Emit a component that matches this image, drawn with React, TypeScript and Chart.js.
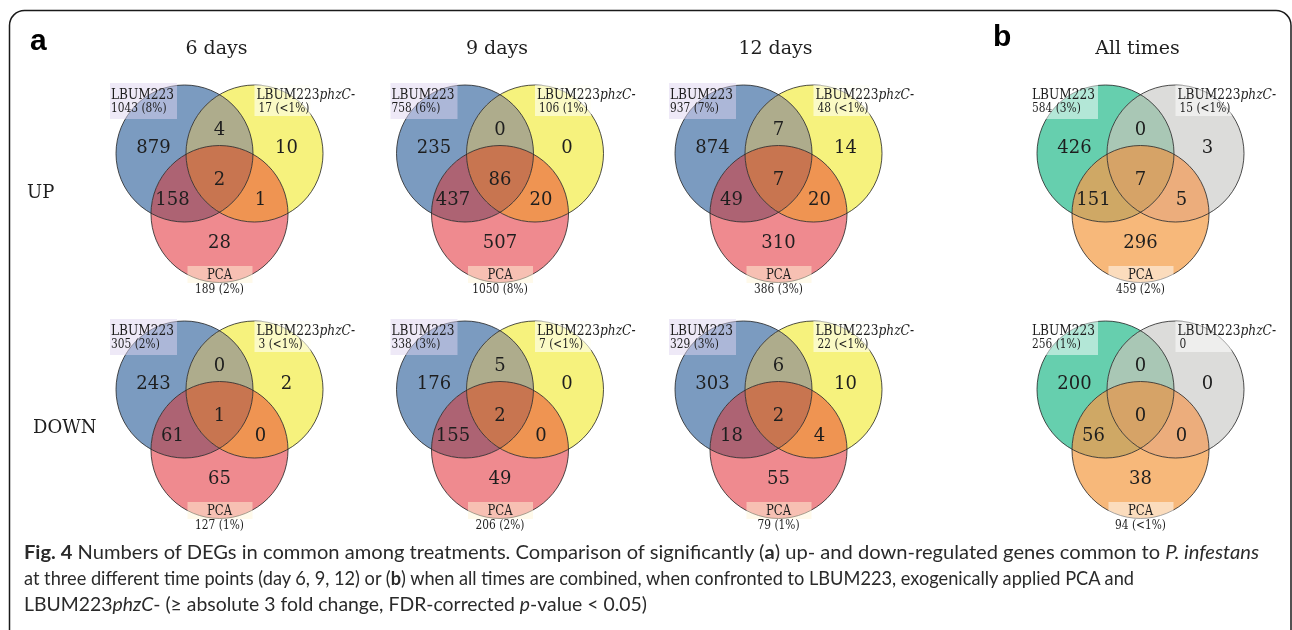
import React, { useEffect, useLayoutEffect, useRef } from "react";
import { Chart, registerables } from "chart.js";
Chart.register(...registerables);

// ---------------- data ----------------
const panelTitles = ["6 days", "9 days", "12 days", "All times"];
const rowLabels = ["UP", "DOWN"];
const setNames = ["LBUM223", "LBUM223", "PCA"];
const setSuffix = ["", "phzC-", ""];
// region counts: [A only, B only, C only, A∩B, A∩C, B∩C, A∩B∩C]  (A=LBUM223, B=LBUM223phzC-, C=PCA)
const upCounts = [
  [879, 10, 28, 4, 158, 1, 2],
  [235, 0, 507, 0, 437, 20, 86],
  [874, 14, 310, 7, 49, 20, 7],
  [426, 3, 296, 0, 151, 5, 7],
];
const downCounts = [
  [243, 2, 65, 0, 61, 0, 1],
  [176, 0, 49, 5, 155, 0, 2],
  [303, 10, 55, 6, 18, 4, 2],
  [200, 0, 38, 0, 56, 0, 0],
];
const upTotals = [
  ["1043 (8%)", "17 (<1%)", "189 (2%)"],
  ["758 (6%)", "106 (1%)", "1050 (8%)"],
  ["937 (7%)", "48 (<1%)", "386 (3%)"],
  ["584 (3%)", "15 (<1%)", "459 (2%)"],
];
const downTotals = [
  ["305 (2%)", "3 (<1%)", "127 (1%)"],
  ["338 (3%)", "7 (<1%)", "206 (2%)"],
  ["329 (3%)", "22 (<1%)", "79 (1%)"],
  ["256 (1%)", "0", "94 (<1%)"],
];

// ---------------- layout / style ----------------
const W = 1292;
const H = 630;
const PANEL_CX = [219.5, 500, 778.5, 1140.5];
const ROW_TOP = [85, 321];
const R = 68.5;
const DX = 35;
const DY = 60.5;

const REGION_MASK = [
  [1, 0, 0],
  [0, 1, 0],
  [0, 0, 1],
  [1, 1, 0],
  [1, 0, 1],
  [0, 1, 1],
  [1, 1, 1],
];
// text anchor (dx from panel centre, baseline dy from circle top)
const REGION_TEXT = [
  [-66, 68],
  [67, 68],
  [0, 163],
  [0, 50],
  [-47, 120],
  [41, 120],
  [0, 100],
];
const PALETTE_A = ["#7b9bc0", "#f6f27d", "#ef8a8f", "#aeac8c", "#ad6373", "#ef9452", "#c87550"];
const PALETTE_B = ["#66cfae", "#dcdcda", "#f7b87a", "#a9c7b5", "#cfa865", "#ecad7c", "#d6a367"];
const BOX_A = ["rgba(222,212,240,0.5)", "rgba(255,255,245,0.6)", "rgba(255,245,215,0.5)"];
const BOX_B = ["rgba(255,255,255,0.5)", "rgba(255,255,255,0.5)", "rgba(255,255,255,0.5)"];
const SERIF = "'DejaVu Serif', serif";
const TEXT = "#1e1e1e";
const CAPTION_TARGET = [1235, 1110, 623];

type Circle = { x: number; y: number; r: number };

function fillRegion(ctx: CanvasRenderingContext2D, circles: Circle[], mask: number[], color: string) {
  ctx.save();
  circles.forEach((c, i) => {
    ctx.beginPath();
    if (mask[i]) {
      ctx.arc(c.x, c.y, c.r, 0, Math.PI * 2);
      ctx.clip();
    } else {
      ctx.rect(0, 0, W, H);
      ctx.moveTo(c.x + c.r, c.y);
      ctx.arc(c.x, c.y, c.r, 0, Math.PI * 2);
      ctx.clip("evenodd");
    }
  });
  ctx.fillStyle = color;
  ctx.fillRect(0, 0, W, H);
  ctx.restore();
}

function drawText(
  ctx: CanvasRenderingContext2D,
  text: string,
  x: number,
  y: number,
  font: string,
  align: "left" | "center" = "left",
  sx = 1,
  color = TEXT
) {
  ctx.save();
  ctx.font = font;
  const w = ctx.measureText(text).width * sx;
  const x0 = align === "center" ? x - w / 2 : x;
  ctx.translate(x0, y);
  ctx.scale(sx, 1);
  ctx.textAlign = "left";
  ctx.textBaseline = "alphabetic";
  ctx.fillStyle = color;
  ctx.fillText(text, 0, 0);
  ctx.restore();
  return w;
}

const vennPlugin = {
  id: "venn",
  beforeDatasetsDraw(chart: any) {
    const ctx = chart.ctx as CanvasRenderingContext2D;
    const metas = [0, 1, 2].map((i) => chart.getDatasetMeta(i));
    const n = metas[0].data.length;
    for (let p = 0; p < n; p++) {
      const circles = metas.map((m: any) => {
        const el = m.data[p];
        return { x: el.x, y: el.y, r: el.options.radius };
      });
      const palette = p % 4 === 3 ? PALETTE_B : PALETTE_A;
      REGION_MASK.forEach((mask, k) => fillRegion(ctx, circles, mask, palette[k]));
    }
  },
  afterDatasetsDraw(chart: any) {
    const ctx = chart.ctx as CanvasRenderingContext2D;
    const xs = chart.scales.x;
    const ys = chart.scales.y;
    const X = (v: number) => xs.getPixelForValue(v);
    const Y = (v: number) => ys.getPixelForValue(v);

    rowLabels.forEach((lab, row) => {
      const counts = row === 0 ? upCounts : downCounts;
      const totals = row === 0 ? upTotals : downTotals;
      const top = ROW_TOP[row];
      PANEL_CX.forEach((cx, col) => {
        const boxes = col === 3 ? BOX_B : BOX_A;
        const rect = (x0: number, x1: number, y0: number, y1: number, c: string) => {
          ctx.fillStyle = c;
          ctx.fillRect(X(cx + x0), Y(top + y0), X(cx + x1) - X(cx + x0), Y(top + y1) - Y(top + y0));
        };
        rect(-109.5, -42.5, -2, 34, boxes[0]);
        rect(35, 91, 0, 31, boxes[1]);
        rect(-32, 33, 181, 198, boxes[2]);

        // set labels
        const nameFont = `14.5px ${SERIF}`;
        const cntFont = `12.5px ${SERIF}`;
        drawText(ctx, setNames[0], X(cx - 108.5), Y(top + 14), nameFont, "left", 0.84);
        drawText(ctx, totals[col][0], X(cx - 108.5), Y(top + 27), cntFont, "left", 0.85);
        const w1 = drawText(ctx, setNames[1], X(cx + 37), Y(top + 14), nameFont, "left", 0.84);
        drawText(ctx, setSuffix[1], X(cx + 37) + w1, Y(top + 14), `italic ${nameFont}`, "left", 0.84);
        drawText(ctx, totals[col][1], X(cx + 39), Y(top + 27), cntFont, "left", 0.85);
        drawText(ctx, setNames[2], X(cx), Y(top + 193.5), nameFont, "center", 0.8);
        drawText(ctx, totals[col][2], X(cx), Y(top + 208), cntFont, "center", 0.85);

        // region counts
        counts[col].forEach((v, k) => {
          const [dx, dy] = REGION_TEXT[k];
          drawText(ctx, String(v), X(cx + dx), Y(top + dy), `18px ${SERIF}`, "center", 1);
        });
      });
    });

    // titles and row labels
    panelTitles.forEach((t, col) => {
      drawText(ctx, t, X(PANEL_CX[col] - 3), Y(54), `19px ${SERIF}`, "center", 1);
    });
    drawText(ctx, rowLabels[0], X(27), Y(198), `18px ${SERIF}`, "left", 1);
    drawText(ctx, rowLabels[1], X(33), Y(433), `18px ${SERIF}`, "left", 1);
    drawText(ctx, "a", X(30), Y(50), `bold 30px 'Liberation Sans', Arial, sans-serif`, "left", 1, "#000");
    drawText(ctx, "b", X(993), Y(46), `bold 30px 'Liberation Sans', Arial, sans-serif`, "left", 1, "#000");

    // figure frame
    ctx.save();
    ctx.strokeStyle = "#1a1a1a";
    ctx.lineWidth = 1.5;
    ctx.beginPath();
    (ctx as any).roundRect(9.5, 10.5, 1281.5, 640, 15);
    ctx.stroke();
    ctx.restore();
  },
};

function buildDatasets() {
  const pts: { x: number; y: number; r: number }[][] = [[], [], []];
  ROW_TOP.forEach((top) => {
    PANEL_CX.forEach((cx) => {
      pts[0].push({ x: cx - DX, y: top + R, r: R });
      pts[1].push({ x: cx + DX, y: top + R, r: R });
      pts[2].push({ x: cx, y: top + R + DY, r: R });
    });
  });
  return pts.map((data, i) => ({
    label: setNames[i] + setSuffix[i],
    data,
    backgroundColor: "rgba(0,0,0,0)",
    borderColor: "rgba(35,35,35,0.8)",
    borderWidth: 1,
    order: 3 - i,
    clip: false,
  }));
}

export default function App() {
  const canvasRef = useRef<HTMLCanvasElement | null>(null);
  const lineRefs = useRef<(HTMLDivElement | null)[]>([]);

  useEffect(() => {
    if (!canvasRef.current) return;
    const chart = new Chart(canvasRef.current, {
      type: "bubble",
      data: { datasets: buildDatasets() as any },
      options: {
        animation: false,
        responsive: false,
        devicePixelRatio: 1,
        events: [],
        layout: { padding: 0, autoPadding: false },
        plugins: { legend: { display: false }, tooltip: { enabled: false }, title: { display: false } },
        scales: {
          x: { type: "linear", min: 0, max: W, display: false },
          y: { type: "linear", min: 0, max: H, reverse: true, display: false },
        },
      },
      plugins: [vennPlugin as any],
    });
    return () => chart.destroy();
  }, []);

  useLayoutEffect(() => {
    lineRefs.current.forEach((el, i) => {
      if (!el) return;
      el.style.transform = "none";
      const w = el.getBoundingClientRect().width;
      if (w > 0) el.style.transform = `scaleX(${CAPTION_TARGET[i] / w})`;
    });
  }, []);

  const lineStyle = (top: number): React.CSSProperties => ({
    position: "absolute",
    left: 24,
    top,
    whiteSpace: "nowrap",
    fontFamily: "Lato, 'Open Sans', sans-serif",
    fontSize: 19,
    lineHeight: "26px",
    color: "#2a2a2a",
    transformOrigin: "left center",
  });

  return (
    <div style={{ position: "absolute", left: 0, top: 0, width: W, height: H, background: "#fff", overflow: "hidden" }}>
      <canvas ref={canvasRef} width={W} height={H} style={{ display: "block" }} />
      <div ref={(el) => { lineRefs.current[0] = el; }} style={lineStyle(539)}>
        <b>Fig. 4</b> Numbers of DEGs in common among treatments. Comparison of significantly (<b>a</b>) up- and down-regulated genes common to <i>P. infestans</i>
      </div>
      <div ref={(el) => { lineRefs.current[1] = el; }} style={lineStyle(565)}>
        at three different time points (day 6, 9, 12) or (<b>b</b>) when all times are combined, when confronted to LBUM223, exogenically applied PCA and
      </div>
      <div ref={(el) => { lineRefs.current[2] = el; }} style={lineStyle(591)}>
        LBUM223<i>phzC</i>- (≥ absolute 3 fold change, FDR-corrected <i>p</i>-value &lt; 0.05)
      </div>
    </div>
  );
}
